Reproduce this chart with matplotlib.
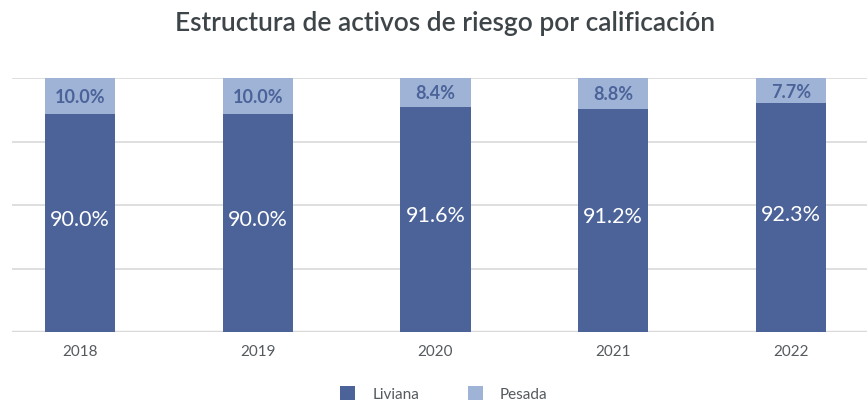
import matplotlib.pyplot as plt
import numpy as np

plt.rcParams['font.family'] = ['Lato', 'DejaVu Sans']

years = ["2018", "2019", "2020", "2021", "2022"]
liviana_pct = [90.0, 90.0, 91.6, 91.2, 92.3]
pesada_pct = [10.0, 10.0, 8.4, 8.8, 7.7]

color_liviana = "#4c6399"
color_pesada = "#9fb3d6"
grid_color = "#d9d9d9"
text_gray = "#555a5e"

# the original chart's value axis does not start at zero
y_min, y_max = 45.9, 97.4


def main():
    fig = plt.figure(figsize=(8.67, 4.03), dpi=100)
    ax = fig.add_axes([12 / 867, 71 / 403, 855 / 867, 254 / 403])

    x = np.arange(len(years))
    width = 0.394
    liv = np.array(liviana_pct)
    pes = np.array(pesada_pct)

    ax.bar(x, liv, width, color=color_liviana, label="Liviana", zorder=2)
    ax.bar(x, pes, width, bottom=liv, color=color_pesada, label="Pesada", zorder=2)

    # labels in the middle of the visible part of each segment
    for xi, a, b in zip(x, liv, pes):
        ax.text(xi, (y_min + a) / 2 + 0.6, f"{a:.1f}%", ha="center", va="center",
                color="white", fontsize=15.5, zorder=3)
        ax.text(xi, (a + min(a + b, y_max)) / 2 - 0.3, f"{b:.1f}%", ha="center", va="center",
                color=color_liviana, fontsize=13, fontweight="bold", zorder=3)

    ax.set_xlim(-0.3826, 4.4276)
    ax.set_ylim(y_min, y_max)
    ax.set_yticks(np.linspace(y_min, y_max, 5))
    ax.yaxis.grid(True, color=grid_color, linewidth=1.2, zorder=0)
    ax.set_yticklabels([])
    ax.tick_params(axis="y", length=0)
    ax.set_xticks(x)
    ax.set_xticklabels(years, fontsize=11, color=text_gray)
    ax.tick_params(axis="x", length=0, pad=9)
    for s in ax.spines.values():
        s.set_visible(False)
    ax.axhline(y_min, color="#dcdcdc", linewidth=2.5, zorder=1)

    fig.text(445 / 867, 1 - 24 / 403, "Estructura de activos de riesgo por calificación",
             ha="center", va="center", fontsize=19, fontweight="semibold", color="#3e4549")

    handles, labels = ax.get_legend_handles_labels()
    fig.legend(handles, labels, loc="center", bbox_to_anchor=(0.512, 1 - 394 / 403),
               ncol=2, frameon=False, fontsize=11, handlelength=1.0, handleheight=1.0,
               columnspacing=3.2, handletextpad=1.1, labelcolor=text_gray)

    fig.savefig("out.png", dpi=100)


if "__main__" == __name__:
    main()
